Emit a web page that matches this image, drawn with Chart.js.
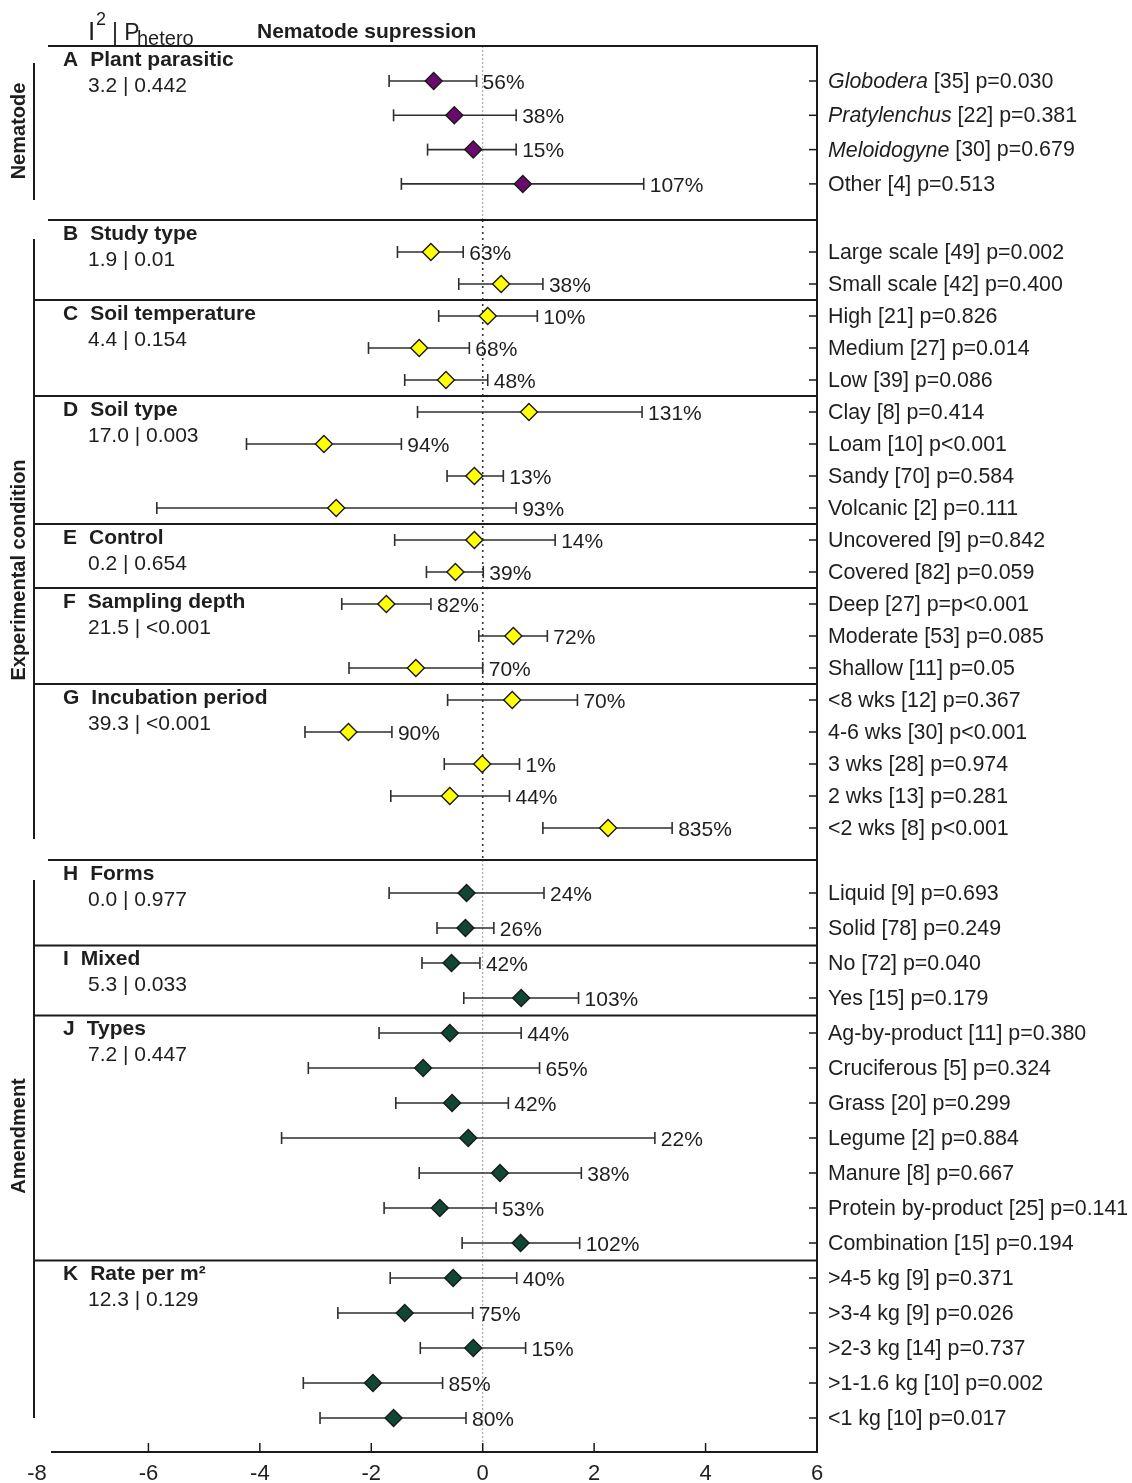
<!DOCTYPE html>
<html>
<head>
<meta charset="utf-8">
<script src="https://cdn.jsdelivr.net/npm/chart.js@4.4.1/dist/chart.umd.min.js"></script>
<style>
  html, body { margin: 0; padding: 0; background: #fff; }
  #wrap { position: relative; width: 1132px; height: 1483px; }
</style>
</head>
<body>
<div id="wrap"><canvas id="myChart"></canvas></div>
<script>
const ctx = document.getElementById('myChart');

// ---- data ----
const groupNames = ['Nematode', 'Experimental condition', 'Amendment'];
const sectionLetters = ['A', 'B', 'C', 'D', 'E', 'F', 'G', 'H', 'I', 'J', 'K'];
const sectionTitles = ['Plant parasitic', 'Study type', 'Soil temperature', 'Soil type', 'Control',
    'Sampling depth', 'Incubation period', 'Forms', 'Mixed', 'Types', 'Rate per m²'];
const sectionStats = ['3.2 | 0.442', '1.9 | 0.01', '4.4 | 0.154', '17.0 | 0.003', '0.2 | 0.654',
    '21.5 | <0.001', '39.3 | <0.001', '0.0 | 0.977', '5.3 | 0.033', '7.2 | 0.447', '12.3 | 0.129'];
const sectionGroup = [0, 1, 1, 1, 1, 1, 1, 2, 2, 2, 2];
const sectionSize = [4, 2, 3, 4, 2, 3, 5, 2, 2, 7, 5];

const rowNames = ['Globodera', 'Pratylenchus', 'Meloidogyne', 'Other',
    'Large scale', 'Small scale',
    'High', 'Medium', 'Low',
    'Clay', 'Loam', 'Sandy', 'Volcanic',
    'Uncovered', 'Covered',
    'Deep', 'Moderate', 'Shallow',
    '<8 wks', '4-6 wks', '3 wks', '2 wks', '<2 wks',
    'Liquid', 'Solid',
    'No', 'Yes',
    'Ag-by-product', 'Cruciferous', 'Grass', 'Legume', 'Manure', 'Protein by-product', 'Combination',
    '>4-5 kg', '>3-4 kg', '>2-3 kg', '>1-1.6 kg', '<1 kg'];
const rowItalic = [true, true, true];
const rowN = [35, 22, 30, 4, 49, 42, 21, 27, 39, 8, 10, 70, 2, 9, 82, 27, 53, 11, 12, 30, 28, 13, 8,
    9, 78, 72, 15, 11, 5, 20, 2, 8, 25, 15, 9, 9, 14, 10, 10];
const rowP = ['p=0.030', 'p=0.381', 'p=0.679', 'p=0.513', 'p=0.002', 'p=0.400', 'p=0.826', 'p=0.014', 'p=0.086',
    'p=0.414', 'p<0.001', 'p=0.584', 'p=0.111', 'p=0.842', 'p=0.059', 'p=p<0.001', 'p=0.085', 'p=0.05',
    'p=0.367', 'p<0.001', 'p=0.974', 'p=0.281', 'p<0.001', 'p=0.693', 'p=0.249', 'p=0.040', 'p=0.179',
    'p=0.380', 'p=0.324', 'p=0.299', 'p=0.884', 'p=0.667', 'p=0.141', 'p=0.194',
    'p=0.371', 'p=0.026', 'p=0.737', 'p=0.002', 'p=0.017'];

const estimates = [-0.88, -0.51, -0.17, 0.72, -0.93, 0.33, 0.09, -1.14, -0.66, 0.83, -2.85, -0.15, -2.63,
    -0.15, -0.49, -1.73, 0.55, -1.2, 0.53, -2.41, -0.01, -0.59, 2.25, -0.29, -0.31, -0.56, 0.69,
    -0.59, -1.07, -0.55, -0.26, 0.31, -0.77, 0.68, -0.53, -1.4, -0.17, -1.97, -1.6];
const lowerCI = [-1.68, -1.6, -0.99, -1.46, -1.53, -0.43, -0.79, -2.05, -1.4, -1.17, -4.24, -0.64, -5.85,
    -1.58, -1.01, -2.53, -0.07, -2.4, -0.63, -3.19, -0.69, -1.65, 1.08, -1.68, -0.82, -1.09, -0.34,
    -1.86, -3.13, -1.56, -3.61, -1.14, -1.77, -0.37, -1.66, -2.6, -1.12, -3.22, -2.92];
const upperCI = [-0.11, 0.6, 0.6, 2.89, -0.35, 1.08, 0.98, -0.24, 0.09, 2.86, -1.46, 0.37, 0.6,
    1.3, 0.01, -0.93, 1.16, 0.0, 1.7, -1.63, 0.66, 0.48, 3.4, 1.1, 0.2, -0.05, 1.72,
    0.69, 1.02, 0.46, 3.09, 1.77, 0.24, 1.74, 0.61, -0.18, 0.77, -0.72, -0.3];
const pctLabels = ['56%', '38%', '15%', '107%', '63%', '38%', '10%', '68%', '48%', '131%', '94%', '13%', '93%',
    '14%', '39%', '82%', '72%', '70%', '70%', '90%', '1%', '44%', '835%', '24%', '26%', '42%', '103%',
    '44%', '65%', '42%', '22%', '38%', '53%', '102%', '40%', '75%', '15%', '85%', '80%'];

const xTickValues = [-8, -6, -4, -2, 0, 2, 4, 6];
const groupColors = ['#6b0a6e', '#ffff00', '#0f4733'];

// ---- layout ----
const FONT = '"Liberation Sans", Arial, sans-serif';
const TEXT = '#1e1e1e';
const groupFirstRow = [81, 252, 893];
const groupStep = [34.3, 32, 35];
const groupTopLine = [46, 220, 860];
const groupBracket = [[63, 200], [239, 839], [880, 1418]];
const groupLabelY = [131, 570, 1136];

const rowGroup = [];
sectionSize.forEach((n, s) => { for (let i = 0; i < n; i++) rowGroup.push(sectionGroup[s]); });
const rowY = [];
const seen = [0, 0, 0];
rowGroup.forEach(g => { rowY.push(groupFirstRow[g] + groupStep[g] * seen[g]); seen[g]++; });

const sectionTop = [];
let firstRow = 0;
sectionSize.forEach((n, s) => {
    const g = sectionGroup[s];
    const isFirst = s === 0 || sectionGroup[s - 1] !== g;
    sectionTop.push(isFirst ? groupTopLine[g] : rowY[firstRow] - groupStep[g] / 2);
    firstRow += n;
});

// ---- datasets ----
const datasets = [];
rowY.forEach((y, i) => {
    datasets.push({
        data: [{ x: lowerCI[i], y }, { x: upperCI[i], y }],
        showLine: true,
        borderColor: '#2e2e2e',
        borderWidth: 1.6,
        pointStyle: 'line',
        rotation: 90,
        pointRadius: 6,
        pointBorderColor: '#2e2e2e',
        pointBorderWidth: 1.6,
        order: 2
    });
});
groupNames.forEach((name, g) => {
    datasets.push({
        label: name,
        data: rowY.map((y, i) => ({ x: estimates[i], y })).filter((_, i) => rowGroup[i] === g),
        pointStyle: 'rectRot',
        pointRadius: 8.5,
        backgroundColor: groupColors[g],
        borderColor: '#1a1a1a',
        borderWidth: 1.4,
        order: 1
    });
});

function line(c, x1, y1, x2, y2) {
    c.beginPath();
    c.moveTo(x1, y1);
    c.lineTo(x2, y2);
    c.stroke();
}

const forestDecor = {
    id: 'forestDecor',
    beforeDatasetsDraw(chart) {
        const c = chart.ctx;
        const xs = chart.scales.x;
        const area = chart.chartArea;
        const x0 = xs.getPixelForValue(0);
        c.save();
        // zero line, light in nematode & amendment blocks, darker in experimental block
        c.lineWidth = 1;
        c.strokeStyle = '#9a9a9a';
        c.setLineDash([2, 2]);
        line(c, x0, area.top, x0, groupTopLine[1]);
        line(c, x0, groupTopLine[2], x0, area.bottom);
        c.strokeStyle = '#333';
        c.lineWidth = 1.6;
        c.setLineDash([2, 4]);
        line(c, x0, groupTopLine[1], x0, groupTopLine[2]);
        c.restore();
    },
    afterDraw(chart) {
        const c = chart.ctx;
        const xs = chart.scales.x;
        const area = chart.chartArea;
        c.save();
        c.strokeStyle = '#1a1a1a';
        c.lineWidth = 2;
        c.setLineDash([]);

        // section separators
        sectionTop.forEach((y, s) => {
            const g = sectionGroup[s];
            const isFirst = s === 0 || sectionGroup[s - 1] !== g;
            line(c, isFirst ? 48 : 34, y, area.right, y);
        });
        // right frame + bottom axis
        line(c, area.right, area.top - 1, area.right, area.bottom + 1);
        line(c, 51, area.bottom, area.right, area.bottom);
        // group brackets
        groupBracket.forEach(([a, b]) => line(c, 34, a, 34, b));

        // axis ticks (pointing up)
        c.lineWidth = 1.5;
        xTickValues.forEach(v => {
            if (v === -8) return;
            const px = xs.getPixelForValue(v);
            line(c, px, area.bottom, px, area.bottom - 9);
        });
        // right ticks
        rowY.forEach(y => line(c, area.right - 8, y, area.right, y));

        c.fillStyle = TEXT;
        c.textBaseline = 'middle';

        // percent labels
        c.font = '21px ' + FONT;
        c.textAlign = 'left';
        rowY.forEach((y, i) => {
            c.fillText(pctLabels[i], xs.getPixelForValue(upperCI[i]) + 6, y + 2);
        });

        // right labels
        const rf = '21.4px ' + FONT;
        rowY.forEach((y, i) => {
            let x = area.right + 11;
            if (rowItalic[i]) {
                c.font = 'italic ' + rf;
                c.fillText(rowNames[i], x, y + 1);
                x += c.measureText(rowNames[i]).width;
                c.font = rf;
                c.fillText(' [' + rowN[i] + '] ' + rowP[i], x, y + 1);
            } else {
                c.font = rf;
                c.fillText(rowNames[i] + ' [' + rowN[i] + '] ' + rowP[i], x, y + 1);
            }
        });

        // section headings
        sectionTop.forEach((y, s) => {
            c.font = 'bold 21px ' + FONT;
            c.fillText(sectionLetters[s], 63, y + 14);
            const lw = c.measureText(sectionLetters[s]).width;
            c.fillText(sectionTitles[s], 63 + lw + 12, y + 14);
            c.font = '21px ' + FONT;
            c.fillText(sectionStats[s], 88, y + 40);
        });

        // group labels
        c.font = 'bold 20px ' + FONT;
        c.textAlign = 'center';
        groupNames.forEach((name, g) => {
            c.save();
            c.translate(19, groupLabelY[g]);
            c.rotate(-Math.PI / 2);
            c.fillText(name, 0, 0);
            c.restore();
        });

        // header
        c.textAlign = 'left';
        c.textBaseline = 'alphabetic';
        c.font = '26px ' + FONT;
        c.fillText('I', 88, 40);
        c.font = '18px ' + FONT;
        c.fillText('2', 96, 25);
        c.font = '23px ' + FONT;
        c.fillText('| P', 112, 40);
        c.font = '20px ' + FONT;
        c.fillText('hetero', 137, 45);
        c.font = 'bold 21px ' + FONT;
        c.textBaseline = 'middle';
        c.fillText('Nematode supression', 257, 32);
        c.restore();
    }
};

new Chart(ctx, {
    type: 'scatter',
    data: { datasets },
    options: {
        responsive: true,
        maintainAspectRatio: false,
        animation: false,
        layout: { padding: { left: 37, right: 315, top: 46, bottom: 0 } },
        plugins: { legend: { display: false }, tooltip: { enabled: false } },
        scales: {
            x: {
                type: 'linear',
                min: -8,
                max: 6,
                afterFit: s => { s.height = 31; },
                afterBuildTicks: s => { s.ticks = xTickValues.map(v => ({ value: v })); },
                border: { display: false },
                grid: { display: false, drawTicks: false },
                ticks: { padding: 9, color: TEXT, font: { size: 22, family: FONT }, maxRotation: 0 }
            },
            y: {
                type: 'linear',
                display: false,
                reverse: true,
                min: 46,
                max: 1452
            }
        }
    },
    plugins: [forestDecor]
});
</script>
</body>
</html>
